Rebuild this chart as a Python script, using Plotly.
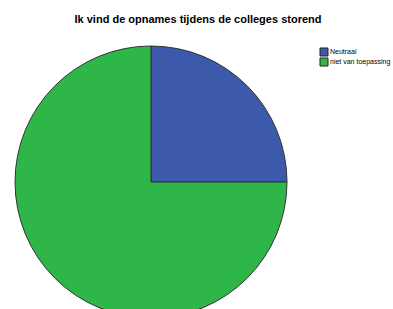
import plotly.graph_objects as go

labels = ["Neutraal", "niet van toepassing"]
values = [25, 75]
colors = ["#3D59AB", "#2EB748"]
title_text = "Ik vind de opnames tijdens de colleges storend"

W, H = 393, 320
cx, cy, r = 151, 182, 136  # pixel centre/radius of pie (from top-left)

fig = go.Figure(go.Pie(
    labels=labels, values=values, sort=False, direction="clockwise", rotation=0,
    marker=dict(colors=colors, line=dict(color="#333333", width=1)),
    textinfo="none", hoverinfo="label+percent",
    domain=dict(x=[(cx - r) / W, (cx + r) / W], y=[(H - cy - r) / H, (H - cy + r) / H]),
    showlegend=False,
))

# legend built from labels/colors
shapes, annotations = [], []
lx, ly0, step, sz = 320, 52, 10, 8
for i, (lab, col) in enumerate(zip(labels, colors)):
    yc = ly0 + i * step
    shapes.append(dict(type="rect", xref="paper", yref="paper",
                       x0=lx / W, x1=(lx + sz) / W,
                       y0=1 - (yc + sz / 2) / H, y1=1 - (yc - sz / 2) / H,
                       fillcolor=col, line=dict(color="#222222", width=1)))
    annotations.append(dict(text=lab, xref="paper", yref="paper",
                            x=(lx + sz) / W, y=1 - yc / H, xanchor="left", yanchor="middle",
                            showarrow=False, font=dict(size=7, color="#000000",
                                                       family="Liberation Sans, Arial, sans-serif")))

fig.update_layout(
    width=W, height=H, margin=dict(l=0, r=0, t=0, b=0),
    paper_bgcolor="white", plot_bgcolor="white",
    title=dict(text="<b>" + title_text + "</b>", x=198 / W, xanchor="center",
               y=1 - 19 / H, yanchor="middle",
               font=dict(size=11, color="#000000", family="Liberation Sans, Arial, sans-serif")),
    shapes=shapes, annotations=annotations,
)

fig.write_html("out.html", config={"displayModeBar": False},
               post_script="document.body.style.margin='0';document.body.style.overflow='hidden';document.documentElement.style.overflow='hidden';")
